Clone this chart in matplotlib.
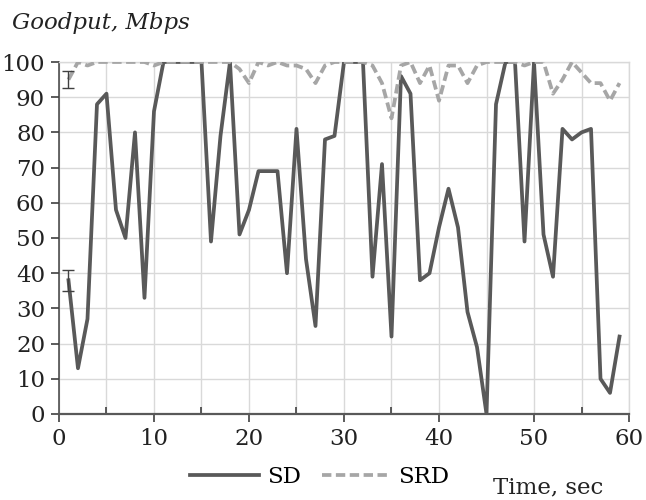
import matplotlib.pyplot as plt
from matplotlib.ticker import MultipleLocator

# time, sec
t = list(range(1, 60))

# goodput, Mbps
sd = [38, 13, 27, 88, 91, 58, 50, 80, 33, 86,
      100, 100, 100, 100, 100, 49, 79, 100, 51, 58,
      69, 69, 69, 40, 81, 44, 25, 78, 79, 100,
      100, 100, 39, 71, 22, 96, 91, 38, 40, 53,
      64, 53, 29, 19, 0, 88, 100, 100, 49, 100,
      51, 39, 81, 78, 80, 81, 10, 6, 22]

srd = [95, 100, 99, 100, 100, 100, 100, 100, 100, 99,
       100, 100, 100, 100, 100, 100, 100, 100, 98, 94,
       100, 99, 100, 99, 99, 98, 94, 99, 100, 100,
       100, 100, 99, 94, 84, 99, 100, 94, 99, 89,
       99, 99, 94, 99, 100, 100, 100, 100, 99, 100,
       100, 91, 95, 100, 97, 94, 94, 89, 94]

# error bars at the first point
err_x = [1, 1]
err_y = [38, 95]
err_d = [3, 2.4]

plt.rcParams['font.family'] = ['DejaVu Serif']
plt.rcParams['font.size'] = 16.5

fig = plt.figure(figsize=(6.46, 5.0), dpi=100)
ax = fig.add_axes([0.0913, 0.172, 0.8824, 0.704])

ax.plot(t, sd, color='#595959', lw=2.7, label='SD', zorder=3)
ax.plot(t, srd, color='#a6a6a6', lw=2.7, label='SRD', zorder=3,
        dashes=(2.5, 1.2))
ax.errorbar(err_x, err_y, yerr=err_d, fmt='none', ecolor='#404040',
            elinewidth=1, capsize=4, capthick=1, zorder=4)

ax.set_xlim(0, 60)
ax.set_ylim(0, 100)
ax.xaxis.set_major_locator(MultipleLocator(10))
ax.xaxis.set_minor_locator(MultipleLocator(5))
ax.yaxis.set_major_locator(MultipleLocator(10))

ax.grid(True, which='both', axis='x', color='#d9d9d9', lw=1, zorder=0)
ax.grid(True, which='major', axis='y', color='#d9d9d9', lw=1, zorder=0)
ax.set_axisbelow(True)

for s in ['top', 'right']:
    ax.spines[s].set_color('#d9d9d9')
    ax.spines[s].set_linewidth(1)
ax.spines['left'].set_color('#404040')
ax.spines['left'].set_linewidth(1.1)
ax.spines['bottom'].set_color('#595959')
ax.spines['bottom'].set_linewidth(1.6)

ax.tick_params(axis='both', which='major', direction='out', length=6,
               width=1.2, color='#404040', colors='#222222', pad=4)
ax.tick_params(axis='x', which='minor', direction='in', length=5,
               width=1.2, color='#404040')

fig.text(0.018, 0.955, 'Goodput, Mbps', style='italic', va='center',
         ha='left', color='#222222')
fig.text(0.848, 0.026, 'Time, sec', va='center', ha='center', color='#222222')

fig.legend(loc='center', bbox_to_anchor=(0.495, 0.046), ncol=2,
           frameon=False, handlelength=3.0, columnspacing=0.9,
           handletextpad=0.35, borderpad=0)

fig.savefig('out.png', dpi=100)
